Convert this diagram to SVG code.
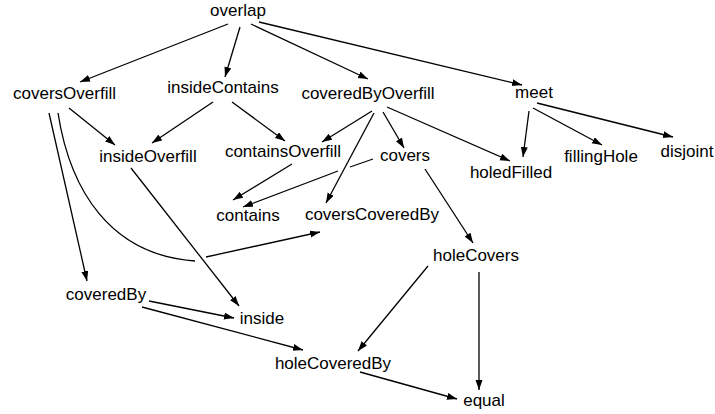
<svg xmlns="http://www.w3.org/2000/svg" width="715" height="414" viewBox="0 0 715 414">
<style>
text{font-family:"Liberation Sans",Arial,sans-serif;font-size:17px;fill:#000;text-anchor:middle}
.e{fill:none;stroke:#000;stroke-width:1.3}
.a{marker-end:url(#ah)}
</style>
<defs>
<marker id="ah" markerUnits="userSpaceOnUse" markerWidth="11" markerHeight="8" refX="10" refY="3.5" orient="auto">
<path d="M0,0 L10,3.5 L0,7 z" fill="#000"/>
</marker>
</defs>
<rect width="715" height="414" fill="#fff"/>
<g id="connectors">
<path class="e a" d="M228,24 L80,82"/>
<path class="e a" d="M240,27 L225,77"/>
<path class="e a" d="M251,24 L368,79"/>
<path class="e a" d="M259,22 L522,85"/>
<path class="e a" d="M69,108 L115,145"/>
<path class="e a" d="M49,113 L87,281"/>
<path class="e" d="M58,113 C70,190 110,255 195,261"/>
<path class="e a" d="M206,257 L320,232"/>
<path class="e a" d="M213,102 L152,143"/>
<path class="e a" d="M232,102 L285,141"/>
<path class="e a" d="M372,111 L322,142"/>
<path class="e a" d="M374,113 L326,203"/>
<path class="e a" d="M383,112 L404,148"/>
<path class="e a" d="M387,107 L510,161"/>
<path class="e a" d="M292,164 L233,200"/>
<path class="e" d="M373,159 L350,167"/>
<path class="e a" d="M338,171 L243,207"/>
<path class="e a" d="M425,169 L473,243"/>
<path class="e a" d="M529,111 L523,157"/>
<path class="e a" d="M533,108 L602,145"/>
<path class="e a" d="M537,103 L673,137"/>
<path class="e a" d="M131,168 L239,306"/>
<path class="e a" d="M149,301 L234,318"/>
<path class="e a" d="M142,307 L303,350"/>
<path class="e a" d="M428,266 L358,351"/>
<path class="e a" d="M479,272 L479,390"/>
<path class="e a" d="M360,372 L457,399"/>
</g>
<g id="overlap"><text x="238" y="16">overlap</text></g>
<g id="coversOverfill"><text x="64.5" y="99">coversOverfill</text></g>
<g id="insideContains"><text x="223" y="93">insideContains</text></g>
<g id="coveredByOverfill"><text x="368" y="99">coveredByOverfill</text></g>
<g id="meet"><text x="534" y="98">meet</text></g>
<g id="insideOverfill"><text x="148" y="162">insideOverfill</text></g>
<g id="containsOverfill"><text x="283" y="157">containsOverfill</text></g>
<g id="covers"><text x="405" y="161">covers</text></g>
<g id="holedFilled"><text x="511" y="178">holedFilled</text></g>
<g id="fillingHole"><text x="601" y="162">fillingHole</text></g>
<g id="disjoint"><text x="687" y="157">disjoint</text></g>
<g id="contains"><text x="248" y="221">contains</text></g>
<g id="coversCoveredBy"><text x="372" y="220">coversCoveredBy</text></g>
<g id="holeCovers"><text x="476" y="261">holeCovers</text></g>
<g id="coveredBy"><text x="106" y="300">coveredBy</text></g>
<g id="inside"><text x="262" y="324">inside</text></g>
<g id="holeCoveredBy"><text x="333" y="369">holeCoveredBy</text></g>
<g id="equal"><text x="484" y="406">equal</text></g>
</svg>
